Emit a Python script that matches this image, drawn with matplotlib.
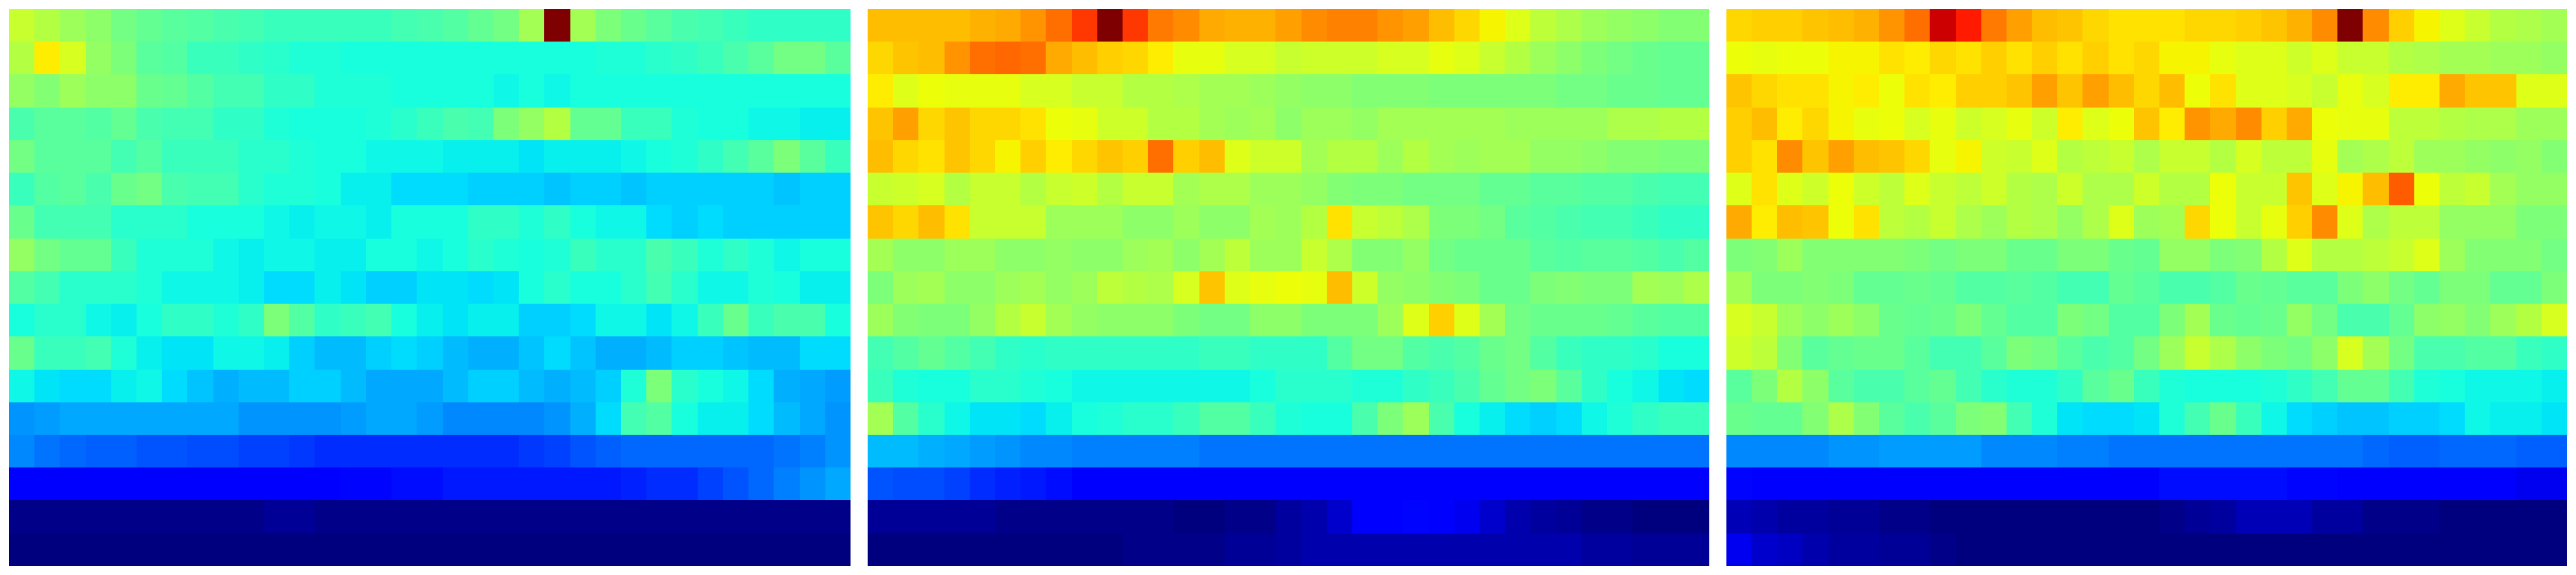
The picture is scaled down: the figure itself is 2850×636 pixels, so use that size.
import numpy as np
import matplotlib
matplotlib.use('Agg')
import matplotlib.pyplot as plt

# values, 0-100 on the jet scale, top row first
left_panel = [
    [59,57,54,52,49,47,46,45,44,43,42,42,42,42,42,43,44,45,47,49,55,100,55,50,48,46,44,43,42,41,41,41,41],
    [57,66,61,53,50,46,45,42,42,41,40,39,39,38,38,38,38,38,38,38,38,38,38,39,39,40,41,42,44,46,49,49,46],
    [53,51,54,52,52,48,47,45,43,43,41,41,39,39,39,38,38,38,38,37,38,37,38,38,38,38,38,38,38,38,38,38,38],
    [44,46,46,45,47,44,43,43,41,41,39,38,38,38,39,40,42,44,43,50,53,57,47,47,42,42,39,38,38,37,37,36,36],
    [49,46,46,46,43,45,42,42,42,40,40,39,38,38,37,37,37,36,36,36,35,36,36,36,37,38,39,41,43,46,50,46,42],
    [42,45,46,44,48,49,44,43,43,40,39,39,38,36,36,34,34,34,33,33,33,32,33,33,32,33,33,33,33,33,32,33,33],
    [48,43,43,43,40,40,40,38,38,38,37,36,37,37,36,38,38,38,41,41,39,41,38,37,37,34,33,34,33,33,33,33,33],
    [53,49,47,47,42,39,39,39,37,36,37,37,36,36,38,38,37,38,40,39,38,39,42,40,40,44,42,39,41,39,37,38,38],
    [45,43,40,40,40,39,37,37,37,36,34,34,36,35,33,33,35,35,34,35,38,40,38,38,40,43,40,37,37,39,38,36,36],
    [38,40,40,37,36,38,41,41,39,41,50,45,41,42,43,38,36,35,36,36,33,33,34,37,37,35,37,42,48,42,44,44,38],
    [48,42,42,43,39,36,35,35,37,37,36,33,31,31,33,34,33,31,30,30,32,34,32,30,30,31,33,33,32,31,31,34,34],
    [37,35,34,34,36,37,34,32,30,31,31,33,33,31,29,29,29,31,33,33,31,30,31,33,39,50,40,38,37,34,30,29,28],
    [27,28,29,29,29,29,29,29,29,27,27,27,27,28,29,29,28,26,26,26,26,27,30,34,43,45,38,36,36,34,31,29,27],
    [26,24,23,22,22,21,21,20,20,19,19,18,17,17,17,17,17,17,17,17,18,19,21,22,23,23,23,23,23,23,24,25,27],
    [12,12,12,12,11,11,11,11,11,11,11,11,12,13,13,14,14,15,15,15,15,15,15,15,16,17,17,19,21,23,25,27,29],
    [1,1,1,1,1,1,1,1,1,1,2,2,1,1,1,1,1,1,1,1,1,1,1,1,1,1,1,1,1,1,1,1,1],
    [0,0,0,0,0,0,0,0,0,0,0,0,0,0,0,0,0,0,0,0,0,0,0,0,0,0,0,0,0,0,0,0,0],
]

middle_panel = [
    [71,71,71,71,72,73,75,79,85,100,85,78,76,73,72,72,74,76,77,77,75,74,71,68,65,62,58,56,54,53,52,51,51],
    [68,70,71,75,79,80,79,73,71,69,68,66,63,63,61,61,59,60,60,60,61,61,63,62,59,57,54,52,50,49,48,47,47],
    [66,62,64,63,63,63,61,61,59,59,57,57,56,55,55,54,53,52,52,51,51,51,50,50,50,50,50,49,49,48,48,47,47],
    [70,74,68,70,68,68,67,64,63,60,60,57,57,55,54,55,52,54,54,53,55,55,55,55,55,54,54,54,54,56,56,57,57],
    [71,68,67,70,68,65,69,66,68,70,69,79,69,71,62,60,60,55,57,57,54,57,55,54,55,55,53,53,52,51,51,50,50],
    [59,60,61,57,59,59,57,59,60,57,59,59,55,56,56,54,54,53,51,50,50,49,49,49,47,47,46,46,45,45,44,43,43],
    [70,68,71,67,59,59,59,54,54,54,52,52,54,52,52,55,54,57,67,59,58,56,50,50,49,46,45,44,43,43,42,41,41],
    [55,52,52,54,54,52,52,53,52,52,54,55,52,55,58,54,54,59,56,51,51,53,49,48,48,48,46,45,46,46,45,44,45],
    [50,54,55,52,52,54,55,53,54,58,57,56,61,70,62,63,64,63,71,60,53,52,51,50,48,48,50,51,50,50,55,54,56],
    [54,51,50,50,53,57,59,55,53,52,52,52,50,49,49,52,52,50,50,50,54,62,69,62,55,49,48,48,48,47,46,45,45],
    [43,45,47,45,43,41,40,41,41,41,41,41,41,42,42,41,41,41,45,49,49,45,44,45,48,49,45,42,41,41,40,38,38],
    [42,39,38,38,40,40,39,38,37,37,37,37,37,37,37,38,40,40,40,39,39,41,42,44,47,49,50,46,41,38,37,35,34],
    [55,45,40,37,35,35,34,36,38,39,40,40,42,45,45,42,39,38,38,44,50,54,44,38,36,34,33,34,37,39,41,42,42],
    [31,31,30,29,28,27,26,26,25,25,25,25,25,24,24,24,24,24,24,24,24,24,24,24,24,24,24,24,24,24,24,24,24],
    [21,20,20,19,17,16,15,14,12,11,11,11,11,11,11,11,11,11,11,11,11,11,11,11,11,11,11,11,11,11,11,11,11],
    [2,2,2,2,2,1,1,1,1,1,1,1,0,0,1,1,3,4,7,11,11,13,11,10,7,4,3,2,1,1,0,0,0],
    [0,0,0,0,0,0,0,0,0,0,1,1,1,1,2,2,3,4,4,4,4,4,4,4,4,4,4,4,3,3,2,2,2],
]

right_panel = [
    [68,69,69,70,71,72,75,79,93,88,78,74,71,70,68,67,67,67,68,68,69,70,72,76,100,76,69,65,62,59,57,56,55],
    [64,63,64,64,65,65,67,66,68,67,69,67,69,67,69,67,68,65,65,63,62,62,60,62,59,59,57,56,55,55,54,54,53],
    [70,68,67,67,65,66,64,67,66,69,69,70,74,70,74,71,68,71,64,67,62,62,61,59,63,61,66,66,73,70,70,62,62],
    [69,71,66,68,65,63,64,61,63,60,61,63,60,66,62,64,70,66,75,73,76,69,73,64,63,63,58,58,57,56,56,54,54],
    [69,67,76,70,74,71,70,68,63,65,60,59,62,57,58,59,56,59,59,57,61,58,58,63,55,56,58,54,54,53,52,53,51],
    [62,67,62,60,64,60,58,62,59,58,60,57,56,60,56,56,60,57,57,64,59,59,70,62,65,71,81,64,58,59,55,53,53],
    [73,66,71,70,64,67,58,57,59,56,54,57,56,53,56,62,54,55,68,64,59,63,69,76,62,56,58,58,53,53,53,50,50],
    [50,51,54,51,51,51,51,50,49,50,50,48,48,50,50,48,47,53,53,50,51,57,62,57,57,58,59,62,54,51,51,51,49],
    [55,50,50,51,50,47,47,48,47,45,45,46,45,43,43,47,46,44,44,45,48,47,46,46,50,52,49,47,50,50,47,47,50],
    [61,59,54,52,54,52,48,47,48,50,47,45,45,50,49,45,45,50,55,48,47,48,53,49,44,44,47,52,53,51,54,57,61],
    [60,58,51,46,47,48,48,46,43,43,46,50,49,46,44,45,49,54,59,56,52,50,49,52,61,55,49,44,44,45,45,42,41],
    [46,50,57,52,46,44,44,46,47,43,40,39,39,41,46,48,42,39,38,38,38,39,41,43,47,47,43,39,38,37,37,37,36],
    [48,47,47,51,56,51,46,44,46,50,51,43,39,35,34,34,35,39,43,48,42,37,34,33,32,32,33,33,34,37,36,36,35],
    [26,26,26,26,27,27,28,28,28,28,26,26,26,25,25,24,24,24,24,24,24,24,24,24,24,23,22,22,23,23,23,22,22],
    [13,11,11,11,11,11,11,11,11,11,11,11,11,11,11,12,12,14,14,14,14,14,13,13,11,11,11,11,11,11,11,10,10],
    [5,4,3,3,2,2,1,1,0,0,0,0,0,0,0,0,0,1,2,3,5,5,5,3,3,1,1,1,0,0,0,0,0],
    [10,7,6,4,3,3,2,2,1,0,0,0,0,0,0,0,0,0,0,0,0,0,0,0,0,0,0,0,0,0,0,0,0],
]

W = 2850
H = 636
panels = [left_panel, middle_panel, right_panel]
lefts = [10, 960, 1910]

fig = plt.figure(figsize=(W/100, H/100), dpi=100)
for x0, panel in zip(lefts, panels):
    ax = fig.add_axes([x0/W, 10/H, 930/W, 616/H])
    ax.imshow(np.array(panel), cmap='jet', vmin=0, vmax=100, aspect='auto', interpolation='nearest')
    ax.axis('off')

fig.savefig('out.png', dpi=100)
